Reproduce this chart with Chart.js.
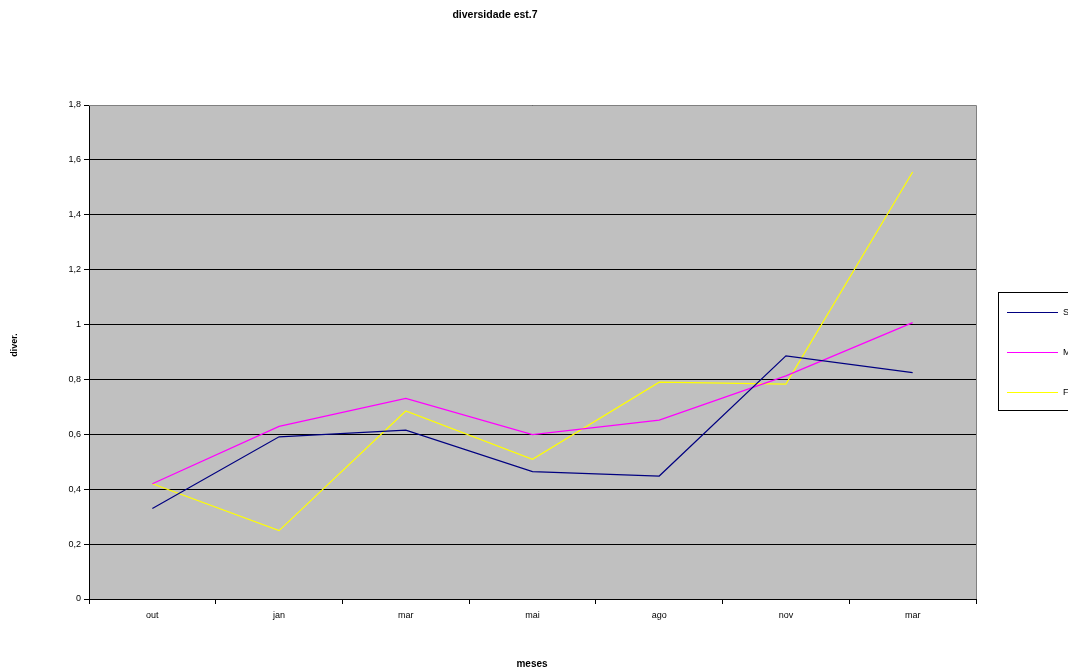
<!DOCTYPE html>
<html>
<head>
<meta charset="utf-8">
<script src="https://cdn.jsdelivr.net/npm/chart.js@4/dist/chart.umd.min.js"></script>
<style>
  html, body { margin: 0; padding: 0; background: #ffffff; }
  #wrap { width: 1068px; height: 669px; position: relative; }
</style>
</head>
<body>
<div id="wrap"><canvas id="c" width="1068" height="669"></canvas></div>
<script>
// Sampling months
const months = ['out', 'jan', 'mar', 'mai', 'ago', 'nov', 'mar'];

// Diversity per depth
const superficie = [0.33, 0.591, 0.615, 0.464, 0.448, 0.886, 0.825];
const meio       = [0.42, 0.629, 0.731, 0.599, 0.652, 0.813, 1.007];
const fundo      = [0.42, 0.249, 0.685, 0.509, 0.790, 0.783, 1.556];

const seriesNames = ['Superfície', 'Meio', 'Fundo'];
const yTicks = [0, 0.2, 0.4, 0.6, 0.8, 1, 1.2, 1.4, 1.6, 1.8];

const FONT = 'Arial, "Liberation Sans", sans-serif';

// Grey plot background, frame, titles and the boxed legend at the right
const decor = {
  id: 'decor',
  beforeDraw(chart) {
    const { ctx, chartArea: a } = chart;
    ctx.save();
    ctx.fillStyle = '#c0c0c0';
    ctx.fillRect(a.left, a.top, a.right - a.left, a.bottom - a.top);
    ctx.restore();
  },
  afterDraw(chart) {
    const { ctx, chartArea: a } = chart;
    ctx.save();
    // frame
    ctx.strokeStyle = '#808080';
    ctx.lineWidth = 1;
    ctx.beginPath();
    ctx.moveTo(a.left, a.top + 0.5);
    ctx.lineTo(a.right + 0.5, a.top + 0.5);
    ctx.lineTo(a.right + 0.5, a.bottom);
    ctx.stroke();

    // titles
    ctx.fillStyle = '#000';
    ctx.textAlign = 'center';
    ctx.textBaseline = 'middle';
    ctx.font = 'bold 10.5px ' + FONT;
    ctx.fillText('diversidade est.7', 495, 15);
    ctx.font = 'bold 10px ' + FONT;
    ctx.fillText('meses', 532, 664);
    ctx.font = 'bold 9px ' + FONT;
    ctx.save();
    ctx.translate(15, 345);
    ctx.rotate(-Math.PI / 2);
    ctx.fillText('diver.', 0, 0);
    ctx.restore();

    // legend
    const lx = 998.5, ly = 292.5, lw = 90, lh = 118;
    ctx.fillStyle = '#ffffff';
    ctx.fillRect(lx, ly, lw, lh);
    ctx.strokeStyle = '#000';
    ctx.strokeRect(lx, ly, lw, lh);
    ctx.font = '9px ' + FONT;
    ctx.textAlign = 'left';
    chart.data.datasets.forEach((ds, i) => {
      const y = 312.5 + i * 40;
      ctx.strokeStyle = ds.borderColor;
      ctx.lineWidth = 1;
      ctx.beginPath();
      ctx.moveTo(1007, y);
      ctx.lineTo(1058, y);
      ctx.stroke();
      ctx.fillStyle = '#000';
      ctx.fillText(ds.label, 1063, y);
    });
    ctx.restore();
  }
};

new Chart(document.getElementById('c'), {
  type: 'line',
  data: {
    labels: months,
    datasets: [
      { label: seriesNames[0], data: superficie, borderColor: '#000080' },
      { label: seriesNames[1], data: meio, borderColor: '#ff00ff' },
      { label: seriesNames[2], data: fundo, borderColor: '#ffff00' }
    ].map(d => Object.assign(d, {
      borderWidth: 1.2, pointRadius: 0, tension: 0, fill: false
    }))
  },
  options: {
    responsive: false,
    animation: false,
    layout: { padding: { left: 0, top: 105, right: 92, bottom: 40 } },
    plugins: { legend: { display: false }, title: { display: false }, tooltip: { enabled: false } },
    scales: {
      x: {
        offset: true,
        afterFit: s => { s.height = 30; },
        grid: {
          offset: true, drawOnChartArea: false, drawTicks: true,
          tickLength: 5, color: '#000', lineWidth: 1
        },
        border: { color: '#000', width: 1 },
        ticks: { color: '#000', font: { family: FONT, size: 9 }, padding: 6, maxRotation: 0 }
      },
      y: {
        min: 0, max: 1.8,
        afterFit: s => { s.width = 89; },
        afterBuildTicks: s => { s.ticks = yTicks.map(v => ({ value: v })); },
        grid: { color: '#000', lineWidth: 1, drawTicks: true, tickLength: 5 },
        border: { color: '#000', width: 1 },
        ticks: {
          color: '#000', font: { family: FONT, size: 9 }, padding: 3,
          callback: v => String(Math.round(v * 10) / 10).replace('.', ',')
        }
      }
    }
  },
  plugins: [decor]
});
</script>
</body>
</html>
